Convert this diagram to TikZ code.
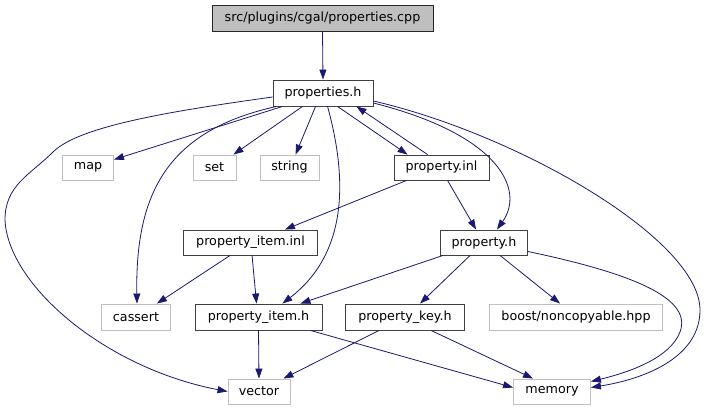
\documentclass[tikz,border=0pt]{standalone}
\usepackage{fontspec}
\setmainfont{DejaVu Sans}
\usetikzlibrary{arrows.meta,calc}
\definecolor{edgeblue}{HTML}{191970}
\definecolor{intborder}{HTML}{404040}
\definecolor{extborder}{HTML}{BFBFBF}
\definecolor{rootfill}{HTML}{BFBFBF}
\begin{document}
\begin{tikzpicture}[x=1pt,y=-1pt,
  every node/.style={font=\fontsize{12.7}{15}\selectfont, inner sep=0pt, align=center},
  intbox/.style={draw=intborder, line width=0.9pt, fill=white, minimum height=25pt},
  extbox/.style={draw=extborder, line width=0.9pt, fill=white, minimum height=25pt},
  rootbox/.style={draw=black!85, line width=0.9pt, fill=rootfill, minimum height=26pt},
  dep/.style={draw=edgeblue, line width=0.8pt, -{Triangle[length=10pt,width=7pt]}}
]
\useasboundingbox (0,0) rectangle (705,411);

% nodes
\node[rootbox, minimum width=221pt] (cpp) at (322.5,18) {src/plugins/cgal/properties.cpp};
\node[intbox, minimum width=100pt, minimum height=26pt] (ph) at (323,93) {properties.h};
\node[extbox, minimum width=51pt] (map) at (88,167.5) {map};
\node[extbox, minimum width=43pt] (set) at (214.5,167.5) {set};
\node[extbox, minimum width=59pt] (string) at (289.5,167.5) {string};
\node[intbox, minimum width=95pt] (pinl) at (441.5,167.5) {property.inl};
\node[intbox, minimum width=134pt] (piinl) at (250.5,242.5) {property\_item.inl};
\node[intbox, minimum width=87pt] (prh) at (484,242.5) {property.h};
\node[extbox, minimum width=69pt, minimum height=26pt] (cassert) at (136,317) {cassert};
\node[intbox, minimum width=127pt, minimum height=26pt] (pih) at (258.5,317) {property\_item.h};
\node[intbox, minimum width=119pt, minimum height=26pt] (pkh) at (405,317) {property\_key.h};
\node[extbox, minimum width=173pt, minimum height=26pt] (boost) at (576,317) {boost/noncopyable.hpp};
\node[extbox, minimum width=62pt] (vector) at (259,391.5) {vector};
\node[extbox, minimum width=77pt] (memory) at (552,391.5) {memory};

% edges
\draw[dep] (cpp.south) -- (ph.north);
\draw[dep] ($(ph.south west)+(10,0)$) -- ($(map.north east)+(0,5)$);
\draw[dep] ($(ph.south west)+(30,0)$) -- ($(set.north east)+(-3,0)$);
\draw[dep] ($(ph.south west)+(43,0)$) -- ($(string.north west)+(36,0)$);
\draw[dep] ($(ph.west)+(0,4)$) .. controls (180,110) and (80,125) .. (53,152)
  .. controls (30,175) and (5,185) .. (5,220)
  .. controls (8,285) and (105,368) .. (vector.west);
\draw[dep] ($(ph.south west)+(4,0)$) .. controls (170,130) and (135,190) .. ($(cassert.north)+(1,0)$);
\draw[dep] ($(ph.south west)+(55,0)$) .. controls (345,170) and (352,250) .. ($(pih.north east)+(-40,0)$);
\draw[dep] ($(ph.south west)+(65,0)$) -- ($(pinl.north west)+(14,0)$);
\draw[dep] ($(pinl.north west)+(34,0)$) -- ($(ph.south east)+(-17,0)$);
\draw[dep] ($(ph.east)+(0,10)$) .. controls (500,135) and (525,190) .. ($(prh.north east)+(-31,0)$);
\draw[dep] ($(ph.east)+(0,8)$) .. controls (520,135) and (700,240) .. (700,310)
  .. controls (700,355) and (650,378) .. ($(memory.east)+(0,-4)$);
\draw[dep] ($(pinl.south west)+(13,0)$) -- ($(piinl.north east)+(-33,0)$);
\draw[dep] ($(pinl.south west)+(54,0)$) -- ($(prh.north west)+(36,0)$);
\draw[dep] ($(piinl.south west)+(47,0)$) -- ($(cassert.north east)+(-14,0)$);
\draw[dep] ($(piinl.south west)+(69,0)$) -- ($(pih.north west)+(62,0)$);
\draw[dep] ($(prh.south west)+(3,0)$) -- ($(pih.north east)+(-22,0)$);
\draw[dep] ($(prh.south west)+(30,0)$) -- ($(pkh.north west)+(75,0)$);
\draw[dep] ($(prh.south west)+(60,0)$) -- ($(boost.north west)+(71,0)$);
\draw[dep] ($(prh.east)+(0,9)$) .. controls (640,275) and (692,300) .. (680,332)
  .. controls (670,358) and (630,372) .. ($(memory.east)+(0,-10)$);
\draw[dep] (pih.south) -- (vector.north);
\draw[dep] ($(pih.south east)+(-12,0)$) -- ($(memory.west)+(0,-4)$);
\draw[dep] ($(pkh.south west)+(34,0)$) -- ($(vector.north east)+(-7,0)$);
\draw[dep] ($(pkh.south west)+(86,0)$) -- ($(memory.north west)+(20,0)$);
\end{tikzpicture}
\end{document}
